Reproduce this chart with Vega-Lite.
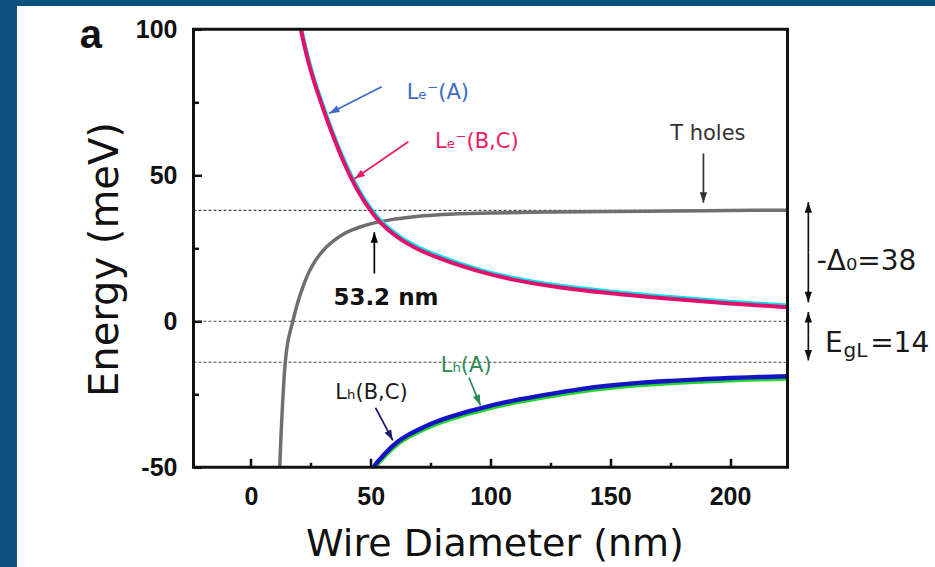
{
  "$schema": "https://vega.github.io/schema/vega-lite/v6.json",
  "width": 594,
  "height": 438,
  "autosize": {"type": "none"},
  "padding": {"left": 193.5, "top": 29.3, "right": 147.5, "bottom": 99.7},
  "background": "#0c5180",
  "config": {"view": {"stroke": null, "fill": null}},
  "datasets": {
    "bg": [{"d": -97.7, "d2": 300, "E": -95, "E2": 108}],
    "frame": [{"d": -24, "d2": 224, "E": -50, "E2": 100}],
    "dots": [
      {"d": -24, "d2": 224, "E": 38, "E2": 38},
      {"d": -24, "d2": 224, "E": 0, "E2": 0},
      {"d": -24, "d2": 224, "E": -14, "E2": -14}
    ],
    "curves": [
      {"s": "LeBC", "d": 20.0, "E": 103},
      {"s": "LeBC", "d": 20.8, "E": 100},
      {"s": "LeBC", "d": 23, "E": 92},
      {"s": "LeBC", "d": 26, "E": 83},
      {"s": "LeBC", "d": 29, "E": 75.5},
      {"s": "LeBC", "d": 32, "E": 68.5},
      {"s": "LeBC", "d": 35, "E": 62},
      {"s": "LeBC", "d": 38.5, "E": 55},
      {"s": "LeBC", "d": 42, "E": 48.8},
      {"s": "LeBC", "d": 45.5, "E": 43.5},
      {"s": "LeBC", "d": 49, "E": 39},
      {"s": "LeBC", "d": 52.5, "E": 35.2},
      {"s": "LeBC", "d": 57, "E": 31.5},
      {"s": "LeBC", "d": 63, "E": 27.8},
      {"s": "LeBC", "d": 70, "E": 24.6},
      {"s": "LeBC", "d": 80, "E": 21.2},
      {"s": "LeBC", "d": 95, "E": 17.2},
      {"s": "LeBC", "d": 110, "E": 14.2},
      {"s": "LeBC", "d": 130, "E": 11.5},
      {"s": "LeBC", "d": 150, "E": 9.6},
      {"s": "LeBC", "d": 175, "E": 7.7},
      {"s": "LeBC", "d": 200, "E": 6.1},
      {"s": "LeBC", "d": 224, "E": 4.8},
      {"s": "LeA", "d": 20.0, "E": 103.8},
      {"s": "LeA", "d": 20.8, "E": 100.8},
      {"s": "LeA", "d": 23, "E": 92.8},
      {"s": "LeA", "d": 26, "E": 83.8},
      {"s": "LeA", "d": 29, "E": 76.3},
      {"s": "LeA", "d": 32, "E": 69.3},
      {"s": "LeA", "d": 35, "E": 62.8},
      {"s": "LeA", "d": 38.5, "E": 55.8},
      {"s": "LeA", "d": 42, "E": 49.6},
      {"s": "LeA", "d": 45.5, "E": 44.3},
      {"s": "LeA", "d": 49, "E": 39.8},
      {"s": "LeA", "d": 52.5, "E": 36},
      {"s": "LeA", "d": 57, "E": 32.3},
      {"s": "LeA", "d": 63, "E": 28.5},
      {"s": "LeA", "d": 70, "E": 25.3},
      {"s": "LeA", "d": 80, "E": 21.9},
      {"s": "LeA", "d": 95, "E": 17.8},
      {"s": "LeA", "d": 110, "E": 14.8},
      {"s": "LeA", "d": 130, "E": 12.1},
      {"s": "LeA", "d": 150, "E": 10.2},
      {"s": "LeA", "d": 175, "E": 8.3},
      {"s": "LeA", "d": 200, "E": 6.7},
      {"s": "LeA", "d": 224, "E": 5.4},
      {"s": "T", "d": 11.8, "E": -54},
      {"s": "T", "d": 12.0, "E": -50},
      {"s": "T", "d": 12.6, "E": -38},
      {"s": "T", "d": 13.2, "E": -28},
      {"s": "T", "d": 13.8, "E": -19.5},
      {"s": "T", "d": 14.5, "E": -12.5},
      {"s": "T", "d": 15.3, "E": -7.5},
      {"s": "T", "d": 16.2, "E": -4},
      {"s": "T", "d": 17.1, "E": -1.2},
      {"s": "T", "d": 18.2, "E": 2.4},
      {"s": "T", "d": 19.8, "E": 7.2},
      {"s": "T", "d": 22, "E": 12.5},
      {"s": "T", "d": 24, "E": 16.5},
      {"s": "T", "d": 26, "E": 19.6},
      {"s": "T", "d": 28.5, "E": 22.6},
      {"s": "T", "d": 31.6, "E": 25.5},
      {"s": "T", "d": 35, "E": 27.9},
      {"s": "T", "d": 38.5, "E": 29.8},
      {"s": "T", "d": 42, "E": 31.2},
      {"s": "T", "d": 45.5, "E": 32.3},
      {"s": "T", "d": 52, "E": 33.8},
      {"s": "T", "d": 60, "E": 35},
      {"s": "T", "d": 70, "E": 36},
      {"s": "T", "d": 80, "E": 36.6},
      {"s": "T", "d": 100, "E": 37.1},
      {"s": "T", "d": 125, "E": 37.4},
      {"s": "T", "d": 150, "E": 37.6},
      {"s": "T", "d": 175, "E": 37.8},
      {"s": "T", "d": 200, "E": 37.95},
      {"s": "T", "d": 224, "E": 38.05},
      {"s": "LhBC", "d": 50.6, "E": -51},
      {"s": "LhBC", "d": 51.2, "E": -50},
      {"s": "LhBC", "d": 53, "E": -48},
      {"s": "LhBC", "d": 55, "E": -46.2},
      {"s": "LhBC", "d": 58, "E": -43.6},
      {"s": "LhBC", "d": 60.9, "E": -41.5},
      {"s": "LhBC", "d": 66.8, "E": -38.4},
      {"s": "LhBC", "d": 72.7, "E": -36},
      {"s": "LhBC", "d": 80, "E": -33.6},
      {"s": "LhBC", "d": 88, "E": -31.5},
      {"s": "LhBC", "d": 96.1, "E": -29.7},
      {"s": "LhBC", "d": 110, "E": -27.1},
      {"s": "LhBC", "d": 124, "E": -25},
      {"s": "LhBC", "d": 137, "E": -23.3},
      {"s": "LhBC", "d": 150, "E": -22},
      {"s": "LhBC", "d": 162, "E": -21.1},
      {"s": "LhBC", "d": 175.4, "E": -20.4},
      {"s": "LhBC", "d": 187, "E": -19.9},
      {"s": "LhBC", "d": 199.6, "E": -19.4},
      {"s": "LhBC", "d": 212, "E": -19.1},
      {"s": "LhBC", "d": 224, "E": -18.8},
      {"s": "LhA", "d": 50.9, "E": -51.8},
      {"s": "LhA", "d": 51.5, "E": -50.8},
      {"s": "LhA", "d": 53, "E": -48.8},
      {"s": "LhA", "d": 55, "E": -47},
      {"s": "LhA", "d": 58, "E": -44.4},
      {"s": "LhA", "d": 60.9, "E": -42.3},
      {"s": "LhA", "d": 66.8, "E": -39.2},
      {"s": "LhA", "d": 72.7, "E": -36.8},
      {"s": "LhA", "d": 80, "E": -34.4},
      {"s": "LhA", "d": 88, "E": -32.3},
      {"s": "LhA", "d": 96.1, "E": -30.5},
      {"s": "LhA", "d": 110, "E": -27.9},
      {"s": "LhA", "d": 124, "E": -25.8},
      {"s": "LhA", "d": 137, "E": -24.1},
      {"s": "LhA", "d": 150, "E": -22.8},
      {"s": "LhA", "d": 162, "E": -21.9},
      {"s": "LhA", "d": 175.4, "E": -21.2},
      {"s": "LhA", "d": 187, "E": -20.7},
      {"s": "LhA", "d": 199.6, "E": -20.2},
      {"s": "LhA", "d": 212, "E": -19.9},
      {"s": "LhA", "d": 224, "E": -19.6}
    ],
    "arrows": [
      {"g": "LeA", "d": 54.6, "E": 80.3, "d2": 32.6, "E2": 71.2},
      {"g": "LeBC", "d": 65.7, "E": 61.5, "d2": 43.2, "E2": 48.8},
      {"g": "T", "d": 188.9, "E": 57.5, "d2": 188.9, "E2": 40.6},
      {"g": "nm", "d": 51.5, "E": 16.4, "d2": 51.5, "E2": 30.5},
      {"g": "LhBC", "d": 52, "E": -29.6, "d2": 59.2, "E2": -40.8},
      {"g": "LhA", "d": 91, "E": -19.3, "d2": 95.8, "E2": -28.8},
      {"g": "gap", "d": 232.7, "E": 23.6, "d2": 232.7, "E2": 40.8},
      {"g": "gap", "d": 232.7, "E": 23.6, "d2": 232.7, "E2": 6.5},
      {"g": "gap", "d": 232.7, "E": -5, "d2": 232.7, "E2": 3.2},
      {"g": "gap", "d": 232.7, "E": -5, "d2": 232.7, "E2": -13.4}
    ],
    "lab1": [
      {"t": "Lₑ⁻(A)", "g": "LeA", "d": 65, "E": 76},
      {"t": "Lₑ⁻(B,C)", "g": "LeBC", "d": 76.8, "E": 59.2},
      {"t": "T holes", "g": "T", "d": 175, "E": 62.1},
      {"t": "Lₕ(B,C)", "g": "k", "d": 35.2, "E": -26.5},
      {"t": "Lₕ(A)", "g": "LhA", "d": 79.2, "E": -17.3}
    ],
    "lab2": [{"t": "53.2 nm", "d": 34.4, "E": 5.6}],
    "lab3": [
      {"t": "-Δ₀=38", "d": 236.2, "E": 17.6},
      {"t": "E", "d": 239.7, "E": -10.4},
      {"t": "=14", "d": 258.5, "E": -10.4}
    ],
    "lab4": [{"t": "gL", "d": 247.4, "E": -12.3}],
    "lab5": [{"t": "a", "d": -66.8, "E": 93.6}]
  },
  "encoding": {
    "x": {
      "field": "d",
      "type": "quantitative",
      "scale": {"domain": [-24, 224], "nice": false, "zero": false},
      "axis": {
        "zindex": 2,
        "values": [0, 25, 50, 75, 100, 125, 150, 175, 200],
        "labelExpr": "datum.value % 50 === 0 ? '' + datum.value : ''",
        "tickSize": {"condition": {"test": "datum.value % 50 === 0", "value": -9}, "value": -5},
        "tickWidth": 2.5,
        "tickColor": "#111111",
        "labelFont": "Liberation Sans",
        "labelFontSize": 25,
        "labelFontWeight": "bold",
        "labelColor": "#111111",
        "labelPadding": 26.2,
        "labelBaseline": "top",
        "labelFlush": false,
        "labelOverlap": false,
        "domain": false,
        "grid": false,
        "title": "Wire Diameter (nm)",
        "titleFont": "DejaVu Sans",
        "titleFontSize": 38,
        "titleFontWeight": "normal",
        "titleColor": "#111111",
        "titleX": 301,
        "titleY": 87.7,
        "titleAlign": "center",
        "titleBaseline": "alphabetic"
      }
    },
    "y": {
      "field": "E",
      "type": "quantitative",
      "scale": {"domain": [-50, 100], "nice": false, "zero": false},
      "axis": {
        "zindex": 2,
        "values": [-50, -25, 0, 25, 50, 75, 100],
        "labelExpr": "datum.value % 50 === 0 ? '' + datum.value : ''",
        "tickSize": {"condition": {"test": "datum.value % 50 === 0", "value": -8}, "value": -5},
        "tickWidth": 2.5,
        "tickColor": "#111111",
        "labelFont": "Liberation Sans",
        "labelFontSize": 25,
        "labelFontWeight": "bold",
        "labelColor": "#111111",
        "labelPadding": 24.5,
        "labelFlush": false,
        "labelOverlap": false,
        "domain": false,
        "grid": false,
        "title": "Energy (meV)",
        "titleFont": "DejaVu Sans",
        "titleFontSize": 40,
        "titleFontWeight": "normal",
        "titleColor": "#111111",
        "titleAngle": 270,
        "titleX": -76.5,
        "titleY": 229.7,
        "titleAlign": "center",
        "titleBaseline": "alphabetic"
      }
    }
  },
  "layer": [
    {
      "data": {"name": "bg"},
      "mark": {"type": "rect", "fill": "white", "stroke": null},
      "encoding": {"x2": {"field": "d2"}, "y2": {"field": "E2"}}
    },
    {
      "data": {"name": "dots"},
      "mark": {"type": "rule", "color": "#4a4a4a", "strokeWidth": 1.1, "strokeDash": [3, 2]},
      "encoding": {"x2": {"field": "d2"}, "y2": {"field": "E2"}}
    },
    {
      "data": {"name": "curves"},
      "transform": [{"filter": "datum.s === 'T'"}],
      "mark": {"type": "line", "color": "#6f6f6f", "strokeWidth": 3.5, "interpolate": "monotone", "clip": true},
      "encoding": {}
    },
    {
      "data": {"name": "curves"},
      "transform": [{"filter": "datum.s === 'LeA'"}],
      "mark": {"type": "line", "color": "#00e3ef", "strokeWidth": 4, "interpolate": "monotone", "clip": true},
      "encoding": {}
    },
    {
      "data": {"name": "curves"},
      "transform": [{"filter": "datum.s === 'LeBC'"}],
      "mark": {"type": "line", "color": "#e2106a", "strokeWidth": 4, "interpolate": "monotone", "clip": true},
      "encoding": {}
    },
    {
      "data": {"name": "curves"},
      "transform": [{"filter": "datum.s === 'LhA'"}],
      "mark": {"type": "line", "color": "#20d82a", "strokeWidth": 4.2, "interpolate": "monotone", "clip": true},
      "encoding": {}
    },
    {
      "data": {"name": "curves"},
      "transform": [{"filter": "datum.s === 'LhBC'"}],
      "mark": {"type": "line", "color": "#1414c4", "strokeWidth": 4.4, "interpolate": "monotone", "clip": true},
      "encoding": {}
    },
    {
      "data": {"name": "arrows"},
      "mark": {"type": "rule", "strokeWidth": 1.7},
      "encoding": {
        "x2": {"field": "d2"},
        "y2": {"field": "E2"},
        "color": {
          "field": "g",
          "type": "nominal",
          "scale": {"domain": ["LeA", "LeBC", "T", "nm", "LhBC", "LhA", "gap", "k"], "range": ["#3d6cc4", "#ee1c63", "#333333", "#000000", "#1a1a6e", "#2e8b57", "#111111", "#1a1a1a"]},
          "legend": null
        }
      }
    },
    {
      "data": {"name": "arrows"},
      "transform": [
        {"calculate": "atan2((datum.d2 - datum.d) * 2.395, (datum.E2 - datum.E) * 2.92) * 180 / PI", "as": "ang"},
        {"calculate": "datum.d2", "as": "d"},
        {"calculate": "datum.E2", "as": "E"}
      ],
      "mark": {"type": "point", "filled": true, "opacity": 1, "size": 110, "shape": "M0,0L-0.7,2L0.7,2Z", "strokeWidth": 0},
      "encoding": {
        "angle": {"field": "ang", "type": "quantitative", "scale": null},
        "color": {
          "field": "g",
          "type": "nominal",
          "scale": {"domain": ["LeA", "LeBC", "T", "nm", "LhBC", "LhA", "gap", "k"], "range": ["#3d6cc4", "#ee1c63", "#333333", "#000000", "#1a1a6e", "#2e8b57", "#111111", "#1a1a1a"]},
          "legend": null
        }
      }
    },
    {
      "data": {"name": "lab1"},
      "mark": {"type": "text", "font": "DejaVu Sans", "fontSize": 21, "align": "left", "baseline": "alphabetic"},
      "encoding": {
        "text": {"field": "t"},
        "color": {
          "field": "g",
          "type": "nominal",
          "scale": {"domain": ["LeA", "LeBC", "T", "nm", "LhBC", "LhA", "gap", "k"], "range": ["#3d6cc4", "#ee1c63", "#333333", "#000000", "#1a1a6e", "#2e8b57", "#111111", "#1a1a1a"]},
          "legend": null
        }
      }
    },
    {
      "data": {"name": "lab2"},
      "mark": {"type": "text", "font": "DejaVu Sans", "fontSize": 23, "fontWeight": "bold", "align": "left", "baseline": "alphabetic", "color": "#111111"},
      "encoding": {"text": {"field": "t"}}
    },
    {
      "data": {"name": "lab3"},
      "mark": {"type": "text", "font": "DejaVu Sans", "fontSize": 28, "align": "left", "baseline": "alphabetic", "color": "#1a1a1a"},
      "encoding": {"text": {"field": "t"}}
    },
    {
      "data": {"name": "lab4"},
      "mark": {"type": "text", "font": "DejaVu Sans", "fontSize": 20, "align": "left", "baseline": "alphabetic", "color": "#1a1a1a"},
      "encoding": {"text": {"field": "t"}}
    },
    {
      "data": {"name": "lab5"},
      "mark": {"type": "text", "font": "Liberation Sans", "fontSize": 40, "fontWeight": "bold", "align": "center", "baseline": "alphabetic", "color": "#111111"},
      "encoding": {"text": {"field": "t"}}
    },
    {
      "data": {"name": "frame"},
      "mark": {"type": "rect", "fill": null, "fillOpacity": 0, "stroke": "#111111", "strokeWidth": 3},
      "encoding": {"x2": {"field": "d2"}, "y2": {"field": "E2"}}
    }
  ]
}
